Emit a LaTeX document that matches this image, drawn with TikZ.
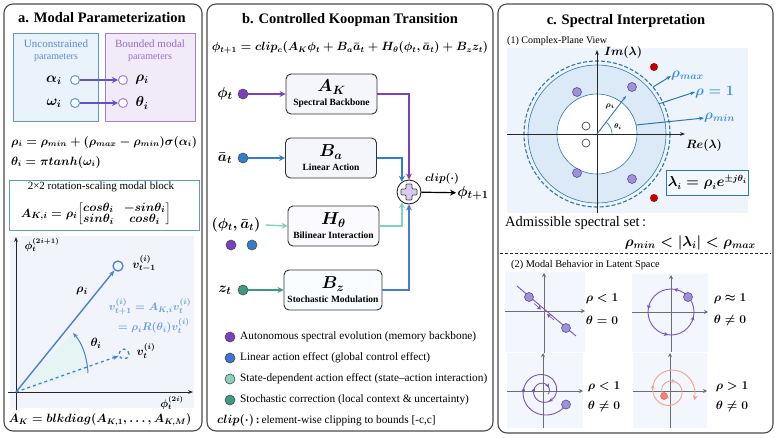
\documentclass[tikz,border=0pt]{standalone}
\usepackage{amsmath}
\usepackage{fontspec}
\setmainfont{Liberation Serif}
\usetikzlibrary{arrows.meta,calc}
\definecolor{frame}{HTML}{4A4A4A}
\definecolor{ublue}{HTML}{5B9BD5}
\definecolor{ubluefill}{HTML}{EAF2FB}
\definecolor{bpurp}{HTML}{A47FD8}
\definecolor{bpurpfill}{HTML}{F1EAF8}
\definecolor{utext}{HTML}{5A8BD6}
\definecolor{ptext}{HTML}{9A6BD0}
\definecolor{arrowc}{HTML}{6550C8}
\definecolor{vblue}{HTML}{4A7FD8}
\definecolor{eqblue}{HTML}{6A9BE3}
\definecolor{plotbg}{HTML}{F1F5FB}
\definecolor{wedge}{HTML}{E6F4F3}
\definecolor{cpurp}{HTML}{7B3FC0}
\definecolor{cblue}{HTML}{2F7FD0}
\definecolor{clteal}{HTML}{80D2BE}
\definecolor{cdteal}{HTML}{3A9A84}
\definecolor{czblue}{HTML}{4A7BD0}
\definecolor{Lone}{HTML}{7B3FC0}
\definecolor{Ltwo}{HTML}{3F74D4}
\definecolor{Lthree}{HTML}{8CCFBC}
\definecolor{Lfour}{HTML}{3E9985}
\definecolor{boxfill}{HTML}{F5F5FC}
\definecolor{plusfill}{HTML}{D9CBF0}
\definecolor{cbg}{HTML}{EEF4FB}
\definecolor{annul}{HTML}{DCE9F6}
\definecolor{circb}{HTML}{2E75B6}
\definecolor{lblblue}{HTML}{3A8FE6}
\definecolor{dotp}{HTML}{9E92D6}
\definecolor{dotpd}{HTML}{5B4B9B}
\definecolor{dred}{HTML}{C00000}
\definecolor{spur}{HTML}{7A52C4}
\definecolor{sorg}{HTML}{F2A28E}
\definecolor{axg}{HTML}{6E6E6E}
\definecolor{subbg}{HTML}{F3F6FC}
\newcommand{\fsz}[1]{\fontsize{#1}{#1}\selectfont}
\tikzset{
 panel/.style={draw=frame, line width=1.1pt, rounded corners=9pt},
 mth/.style={font=\boldmath\fontsize{#1}{#1}\selectfont, inner sep=1pt},
 hole/.style={circle, draw, line width=1pt, minimum size=9pt, inner sep=0pt, fill=white},
 kbox/.style={draw=black!80, line width=0.9pt, rounded corners=5pt, fill=boxfill, minimum width=91pt, minimum height=40pt, align=center, inner sep=1pt},
 src/.style={circle, minimum size=10pt, inner sep=0pt, draw=black!70, line width=0.6pt},
 flow/.style={line width=1.4pt, -{Stealth[length=6pt,width=6pt]}},
 ev/.style={circle, minimum size=9pt, inner sep=0pt, fill=dotp, draw=dotpd, line width=0.6pt},
 rv/.style={circle, minimum size=8pt, inner sep=0pt, fill=dred},
 wv/.style={circle, minimum size=8pt, inner sep=0pt, fill=white, draw=black!80, line width=0.6pt},
 axis/.style={draw=axg, line width=0.8pt, -{Stealth[length=4pt,width=4pt]}},
 legtxt/.style={anchor=west, inner sep=0pt},
 tip/.style={line width=0.6pt, -{Stealth[length=4pt,width=4pt]}},
}
\newcommand{\kb}[2]{{\boldmath\fsz{17}$#1$}\\[2pt]{\bfseries\fsz{9.5}#2}}
\newcommand{\ptt}[1]{\bfseries\fsz{14.5}#1}
\newcommand{\lgt}[1]{\fsz{11.3}#1}
\begin{document}
\begin{tikzpicture}[x=1pt,y=-1pt]
\useasboundingbox (0,0) rectangle (777,437);
\fill[white] (0,0) rectangle (777,437);
% ---------------- panels
\draw[panel] (4,4) rectangle (202,431);
\draw[panel] (207,4) rectangle (493,431);
\draw[panel] (498,4) rectangle (773,433);
% ================= panel a
\node (ta) at (102,18) {\ptt{a. Modal Parameterization}};
\draw[draw=ublue, fill=ubluefill, line width=0.9pt] (13,33) rectangle (98,121);
\draw[draw=bpurp, fill=bpurpfill, line width=0.9pt] (105,33) rectangle (195,121);
\node[text=utext, align=center] (ut) at (56,51) {\fontsize{11}{13.5}\selectfont Unconstrained\\parameters};
\node[text=ptext, align=center] (bt) at (150,51) {\fontsize{11}{13.5}\selectfont Bounded modal\\parameters};
\node[mth=14] (al) at (54,80) {$\alpha_i$};
\node[hole, draw=ublue] (ca) at (75,80) {};
\node[hole, draw=bpurp] (cr) at (123,80) {};
\draw[flow, arrowc, line width=1.6pt] (ca) -- (cr);
\node[mth=14] (rh) at (142,80) {$\rho_i$};
\node[mth=14] (om) at (54,103) {$\omega_i$};
\node[hole, draw=ublue] (co) at (75,103) {};
\node[hole, draw=bpurp] (ct) at (123,103) {};
\draw[flow, arrowc, line width=1.6pt] (co) -- (ct);
\node[mth=14] (th) at (142,103) {$\theta_i$};
\node[mth=11.5, anchor=west] (e1) at (10,142) {$\rho_i=\rho_{min}+(\rho_{max}-\rho_{min})\sigma(\alpha_i)$};
\node[mth=11.5, anchor=west] (e2) at (10,162) {$\theta_i=\pi tanh(\omega_i)$};
\draw[draw=ublue, line width=0.9pt] (9,180) rectangle (199,230);
\node (blk) at (101,187) {\fsz{11}2×2 rotation-scaling modal block};
\node[mth=12.5] (mat) at (96,214) {\renewcommand{\arraystretch}{0.8}$A_{K,i}=\rho_i\!\begin{bmatrix}cos\theta_i & -sin\theta_i\\ sin\theta_i & cos\theta_i\end{bmatrix}$};
% plot
\fill[plotbg] (10,236) rectangle (194,408);
\coordinate (O) at (16,392);
\fill[wedge] (O) -- (88,373) .. controls (87,356) and (82,343) .. (73,333) -- cycle;
\draw[draw=black!85, line width=0.8pt, -{Stealth[length=5pt]}] (16,410) -- (16,237);
\draw[draw=black!85, line width=0.8pt, -{Stealth[length=5pt]}] (8,392) -- (193,392);
\node[mth=10.5] (ylab) at (42,245) {$\phi_t^{(2i+1)}$};
\node[mth=10.5] (xlab) at (172,403) {$\phi_t^{(2i)}$};
\node[circle, draw=vblue, line width=1.3pt, minimum size=10pt, inner sep=0pt] (v1) at (118,266) {};
\draw[vblue, line width=1.4pt, -{Stealth[length=6pt]}] (O) -- (v1);
\node[circle, draw=vblue, dashed, line width=1.3pt, minimum size=10pt, inner sep=0pt] (v0) at (124,354) {};
\draw[vblue, dashed, line width=1.3pt, -{Stealth[length=6pt]}] (O) -- (v0);
\node[mth=12] (v1l) at (144,264) {$v_{t-1}^{(i)}$};
\node[mth=12] (v0l) at (146,351) {$v_t^{(i)}$};
\node[mth=13] (rhl) at (82,291) {$\rho_i$};
\node[mth=13] (thl) at (96,343) {$\theta_i$};
\coordinate (a1) at (88,373);
\coordinate (a2) at (73,333);
\draw[vblue, line width=1pt, -{Stealth[length=5pt]}] (a1) .. controls (87,356) and (82,343) .. (a2);
\node[mth=11] (q1) at (150,307) {\color{eqblue}$v_{t+1}^{(i)}=A_{K,i}v_t^{(i)}$};
\node[mth=11] (q2) at (154,326) {\color{eqblue}$=\rho_i R(\theta_i)v_t^{(i)}$};
\node[mth=11.5] (bd) at (100,420) {$A_K=blkdiag(A_{K,1},\dots,A_{K,M})$};
% ================= panel b
\node (tb) at (350,20) {\ptt{b. Controlled Koopman Transition}};
\node[mth=11.5] (eqb) at (350,48) {$\phi_{t+1}=clip_c(A_K\phi_t+B_a\bar{a}_t+H_\theta(\phi_t,\bar{a}_t)+B_z z_t)$};
\node[kbox] (AK) at (331.5,94) {\kb{A_K}{Spectral Backbone}};
\node[kbox] (Ba) at (331,158) {\kb{B_a}{Linear Action}};
\node[kbox, fill=blue!2] (Ht) at (333.5,226) {\kb{H_\theta}{Bilinear Interaction}};
\node[kbox, fill=cyan!2, minimum width=98pt] (Bz) at (333,290) {\kb{B_z}{Stochastic Modulation}};
\node[mth=15] (phi) at (225,94) {$\phi_t$};
\node[src, fill=cpurp] (dphi) at (243,94) {};
\draw[flow, cpurp] (dphi) -- (AK);
\node[mth=15] (abar) at (225,158) {$\bar{a}_t$};
\node[src, fill=cblue] (dab) at (243,158) {};
\draw[flow, cblue] (dab) -- (Ba);
\node[mth=14] (pa) at (236,225) {$(\phi_t,\bar{a}_t)$};
\node[src, fill=cpurp] (dpa1) at (231,245) {};
\node[src, fill=cblue] (dpa2) at (252,245) {};
\draw[flow, clteal] (pa.east) ++(4,0) -- (Ht.west);
\node[mth=15] (zt) at (225,290) {$z_t$};
\node[src, fill=cdteal] (dz) at (243,290) {};
\draw[flow, cdteal] (dz) -- (Bz);
\node[circle, draw=black!85, line width=0.9pt, minimum size=24pt, inner sep=0pt, fill=white] (sum) at (409,192) {};
\draw[fill=plusfill, draw=black!75, line width=0.7pt, rounded corners=0.8pt] (401,189) -- (406,189) -- (406,184) -- (412,184) -- (412,189) -- (417,189) -- (417,195) -- (412,195) -- (412,200) -- (406,200) -- (406,195) -- (401,195) -- cycle;
\draw[flow, cpurp] (AK.east) -| (sum.north);
\draw[flow, cblue] (Ba.east) -| (sum.125);
\draw[flow, clteal] (Ht.east) -| (sum.235);
\draw[flow, czblue] (Bz.east) -| (sum.south);
\node[mth=15] (out) at (473,193) {$\phi_{t+1}$};
\draw[flow, black, line width=1.2pt] (sum) -- (out);
\node[mth=11] (clp) at (442,179) {$clip(\cdot)$};
% legend
\node[src, fill=Lone] (l1) at (230,337) {};
\node[legtxt] (t1) at (240,337) {\lgt{Autonomous spectral evolution (memory backbone)}};
\node[src, fill=Ltwo] (l2) at (230,358) {};
\node[legtxt] (t2) at (240,358) {\lgt{Linear action effect (global control effect)}};
\node[src, fill=Lthree] (l3) at (230,379) {};
\node[legtxt] (t3) at (240,379) {\lgt{State-dependent action effect (state–action interaction)}};
\node[src, fill=Lfour] (l4) at (230,400) {};
\node[legtxt] (t4) at (240,400) {\lgt{Stochastic correction (local context \& uncertainty)}};
\node[legtxt] (t5) at (217,420) {{\boldmath\fsz{12.5}$clip(\cdot)$}\lgt{\,\textbf{:}\,element-wise clipping to bounds [-c,c]}};
% ================= panel c
\node (tc) at (626,21) {\ptt{c. Spectral Interpretation}};
\node[anchor=west, inner sep=0pt] (c1) at (507,41) {\fsz{10}(1) Complex-Plane View};
\fill[cbg] (507,48) rectangle (748,213);
\coordinate (C) at (597,134);
\fill[annul] (C) circle[radius=69];
\fill[white] (C) circle[radius=40];
\draw[circb, line width=0.6pt] (C) circle[radius=40];
\draw[circb, line width=0.6pt] (C) circle[radius=69];
\draw[circb, line width=1.1pt, dash pattern=on 4pt off 2pt] (C) circle[radius=73];
\draw[draw=black!85, line width=0.8pt, -{Stealth[length=5pt]}] (597,213) -- (597,50);
\draw[draw=black!85, line width=0.8pt, -{Stealth[length=5pt]}] (507,134) -- (685,134);
\node[mth=12] (im) at (623,52) {$Im(\lambda)$};
\node[mth=12] (re) at (704,145) {$Re(\lambda)$};
\node[ev] (e1) at (577,92) {};
\node[ev] (e2) at (632,87) {};
\node[ev] (e3) at (577,173) {};
\node[ev] (e4) at (632,179) {};
\node[rv] (r1) at (654,67) {};
\node[rv] (r2) at (654,198) {};
\node[wv] (w1) at (586,126) {};
\node[wv] (w2) at (586,143) {};
\coordinate (rend) at (626,96);
\draw[circb, line width=0.9pt, -{Stealth[length=4pt]}] (C) -- (rend);
\draw[circb, line width=0.6pt] ($(C)+(15,0)$) arc[start angle=0, end angle=-52, radius=15];
\node[mth=8] (rhoi) at (610,106) {$\rho_i$};
\node[mth=7.5] (thi) at (618,127) {$\theta_i$};
\coordinate (pmax) at ($(C)+(-40:73)$);
\coordinate (pone) at ($(C)+(-26:69)$);
\coordinate (pmin) at ($(C)+(-13:40)$);
\node[mth=14, anchor=west, inner sep=0pt] (lmax) at (671,76) {\color{lblblue}$\rho_{max}$};
\node[mth=14, anchor=west, inner sep=0pt] (lone) at (695,92) {\color{lblblue}$\rho=1$};
\node[mth=14, anchor=west, inner sep=0pt] (lmin) at (704,118) {\color{lblblue}$\rho_{min}$};
\draw[circb, line width=1pt, -{Stealth[length=5pt]}] (pmax) -- (lmax.west);
\draw[circb, line width=1pt, -{Stealth[length=5pt]}] (pone) -- (lone.west);
\draw[circb, line width=1pt, -{Stealth[length=5pt]}] (pmin) -- (lmin.west);
\node[draw=circb, fill=cbg!60, line width=0.8pt, minimum width=81pt, minimum height=25pt, mth=13.5] (lam) at (707.5,182.5) {$\lambda_i=\rho_i e^{\pm j\theta_i}$};
\node[anchor=west, inner sep=0pt] (adm) at (505,223) {\fsz{14.5}Admissible spectral set\,:};
\node[mth=14.5, anchor=east] (ineq) at (757,243) {$\rho_{min}<|\lambda_i|<\rho_{max}$};
\draw[black!85, line width=0.8pt, dash pattern=on 3pt off 2pt] (500,253) -- (771,253);
\node[anchor=west, inner sep=0pt] (c2) at (511,265) {\fsz{10.3}(2) Modal Behavior in Latent Space};
% subplots backgrounds
\fill[subbg] (505,272) rectangle (585,352);
\fill[subbg] (632,274) rectangle (708,352);
\fill[subbg] (507,353) rectangle (583,428);
\fill[subbg] (633,353) rectangle (707,428);
% subplot 1
\draw[axis] (544,353) -- (544,273);
\draw[axis] (505,311) -- (585,311);
\draw[spur, line width=0.9pt] (517,286) -- (576,336);
\draw[spur, tip] (534,303.5) -- (541,309.5);
\draw[spur, tip] (554,320) -- (547,314);
\node[ev] (s1a) at (529,297) {};
\node[ev] (s1b) at (566,328) {};
\node[mth=13] (s1l1) at (602,299) {$\rho<1$};
\node[mth=13] (s1l2) at (602,320) {$\theta=0$};
% subplot 2
\draw[axis] (671,352) -- (671,275);
\draw[axis] (632,312) -- (708,312);
\draw[spur, line width=0.9pt] (671,312) circle[radius=23];
\foreach \a in {-83,-173,-263,-349}{
  \draw[spur, tip] ({671+23*cos(\a+12)},{312+23*sin(\a+12)}) -- ({671+23*cos(\a)},{312+23*sin(\a)});
}
\node[ev] (s2a) at (688,297) {};
\node[mth=13] (s2l1) at (730,299) {$\rho\approx1$};
\node[mth=13] (s2l2) at (730,320) {$\theta\neq0$};
% subplot 3
\draw[axis] (543,428) -- (543,353);
\draw[axis] (507,391) -- (583,391);
\draw[spur, line width=0.9pt] plot[domain=30:750, samples=200, smooth] ({543+27*exp(-0.002089*(\x-30))*cos(\x)},{391+27*exp(-0.002089*(\x-30))*sin(\x)});
\foreach \a in {190,420,560,690}{
  \draw[spur, tip] ({543+27*exp(-0.002089*(\a-42))*cos(\a-12)},{391+27*exp(-0.002089*(\a-42))*sin(\a-12)}) -- ({543+27*exp(-0.002089*(\a-30))*cos(\a)},{391+27*exp(-0.002089*(\a-30))*sin(\a)});
}
\node[ev] (s3a) at (566,404.5) {};
\node[mth=13] (s3l1) at (604,387) {$\rho<1$};
\node[mth=13] (s3l2) at (604,406) {$\theta\neq0$};
% subplot 4
\draw[axis] (670,428) -- (670,353);
\draw[axis] (633,391) -- (707,391);
\draw[sorg, line width=0.9pt, -{Stealth[length=5pt,width=5pt]}] plot[domain=100:741, samples=200, smooth] ({670+7*exp(0.002047*(\x-100))*cos(\x)},{391+7*exp(0.002047*(\x-100))*sin(\x)});
\foreach \a in {300,560}{
  \draw[sorg, tip] ({670+7*exp(0.002047*(\a-112))*cos(\a-12)},{391+7*exp(0.002047*(\a-112))*sin(\a-12)}) -- ({670+7*exp(0.002047*(\a-100))*cos(\a)},{391+7*exp(0.002047*(\a-100))*sin(\a)});
}
\node[circle, minimum size=7pt, inner sep=0pt, fill=sorg!80!red, draw=dred!60, line width=0.5pt] (s4a) at (664,396) {};
\node[mth=13] (s4l1) at (732,387) {$\rho>1$};
\node[mth=13] (s4l2) at (732,406) {$\theta\neq0$};
\end{tikzpicture}
\end{document}
